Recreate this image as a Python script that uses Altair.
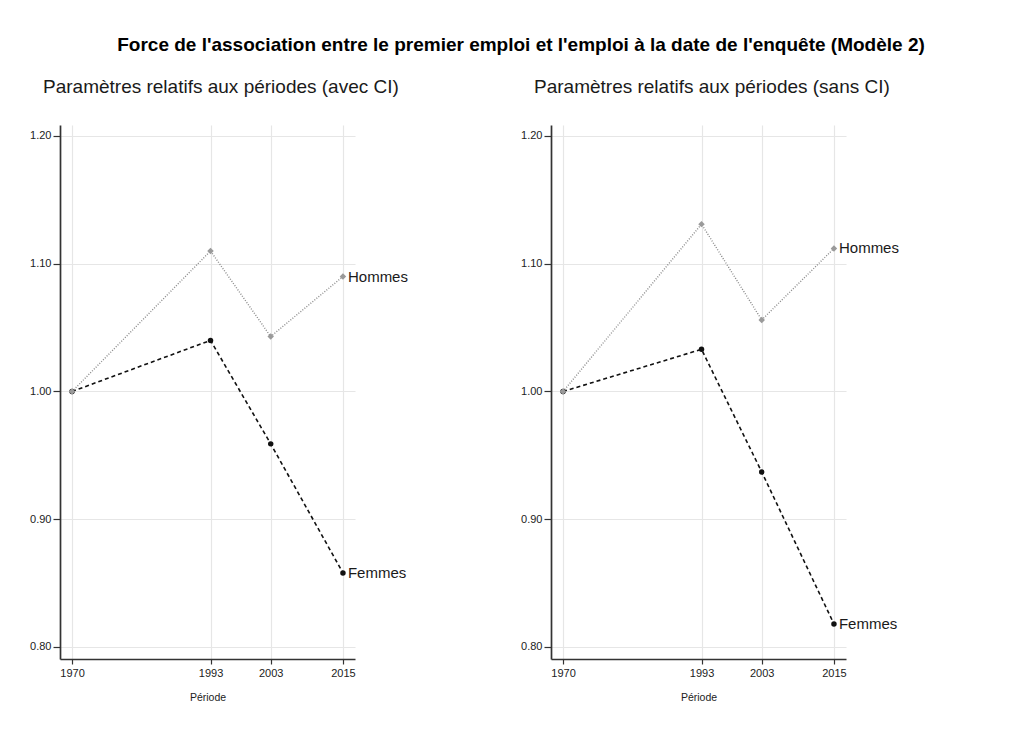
import altair as alt
import pandas as pd

years = [1970, 1993, 2003, 2015]
hommes_ci = [1.000, 1.110, 1.043, 1.090]
femmes_ci = [1.000, 1.040, 0.959, 0.858]
hommes_sans = [1.000, 1.131, 1.056, 1.112]
femmes_sans = [1.000, 1.033, 0.937, 0.818]
y_ticks = [0.8, 0.9, 1.0, 1.1, 1.2]
main_title = "Force de l'association entre le premier emploi et l'emploi à la date de l'enquête (Modèle 2)"
sub_ci = "Paramètres relatifs aux périodes (avec CI)"
sub_sans = "Paramètres relatifs aux périodes (sans CI)"

FONT = "Liberation Sans"


def panel(h, f, title):
    df = pd.DataFrame({
        "year": years * 2,
        "value": h + f,
        "sexe": ["Hommes"] * len(years) + ["Femmes"] * len(years),
    })
    x = alt.X("year:Q",
              scale=alt.Scale(domain=[1968, 2017], nice=False, zero=False),
              axis=alt.Axis(values=years, format="d", title="Période",
                            tickSize=5, labelPadding=3, titlePadding=14))
    y = alt.Y("value:Q",
              scale=alt.Scale(domain=[0.7906, 1.2086], nice=False, zero=False),
              axis=alt.Axis(values=y_ticks, format=".2f", title=None,
                            tickSize=7, labelPadding=2))
    base = alt.Chart(df)
    fem = base.transform_filter(alt.datum.sexe == "Femmes")
    hom = base.transform_filter(alt.datum.sexe == "Hommes")
    lineF = fem.mark_line(color="#111111", strokeDash=[4, 3], strokeWidth=1.6).encode(x=x, y=y)
    ptF = fem.mark_point(shape="circle", filled=True, color="#111111", size=30, opacity=1).encode(x=x, y=y)
    lineH = hom.mark_line(color="#8a8a8a", strokeDash=[1, 1.6], strokeWidth=1.4).encode(x=x, y=y)
    ptH = hom.mark_point(shape="diamond", filled=True, color="#9a9a9a", size=42, opacity=1).encode(x=x, y=y)
    lab = base.transform_filter(alt.datum.year == 2015).mark_text(
        align="left", baseline="middle", dx=5, fontSize=15, font=FONT, color="#1a1a1a"
    ).encode(x=x, y=y, text="sexe:N")
    return alt.layer(lineF, ptF, lineH, ptH, lab).properties(
        width=295, height=534,
        title=alt.TitleParams(text=title, anchor="start", frame="group", dx=-17,
                              fontSize=19, fontWeight="normal", font=FONT,
                              color="#1a1a1a", offset=28),
    )


chart = alt.hconcat(
    panel(hommes_ci, femmes_ci, sub_ci),
    panel(hommes_sans, femmes_sans, sub_sans),
    spacing=196, bounds="flush",
).properties(
    title=alt.TitleParams(text=main_title, anchor="middle", frame="group", dx=461,
                          fontSize=19, fontWeight="bold", font=FONT, color="#000000",
                          offset=23),
    padding={"left": 21, "top": 28, "right": 5, "bottom": 5},
    background="white",
).configure_view(stroke=None).configure_axis(
    labelFont=FONT, titleFont=FONT, labelFontSize=11, titleFontSize=10.5,
    titleFontWeight="normal", labelColor="#222222", titleColor="#222222",
    domainColor="#333333", domainWidth=1.7, tickColor="#333333", tickWidth=1.2,
    gridColor="#e6e6e6", gridWidth=1.2,
)

chart.save("out.html", embed_options={"renderer": "svg", "actions": False})
